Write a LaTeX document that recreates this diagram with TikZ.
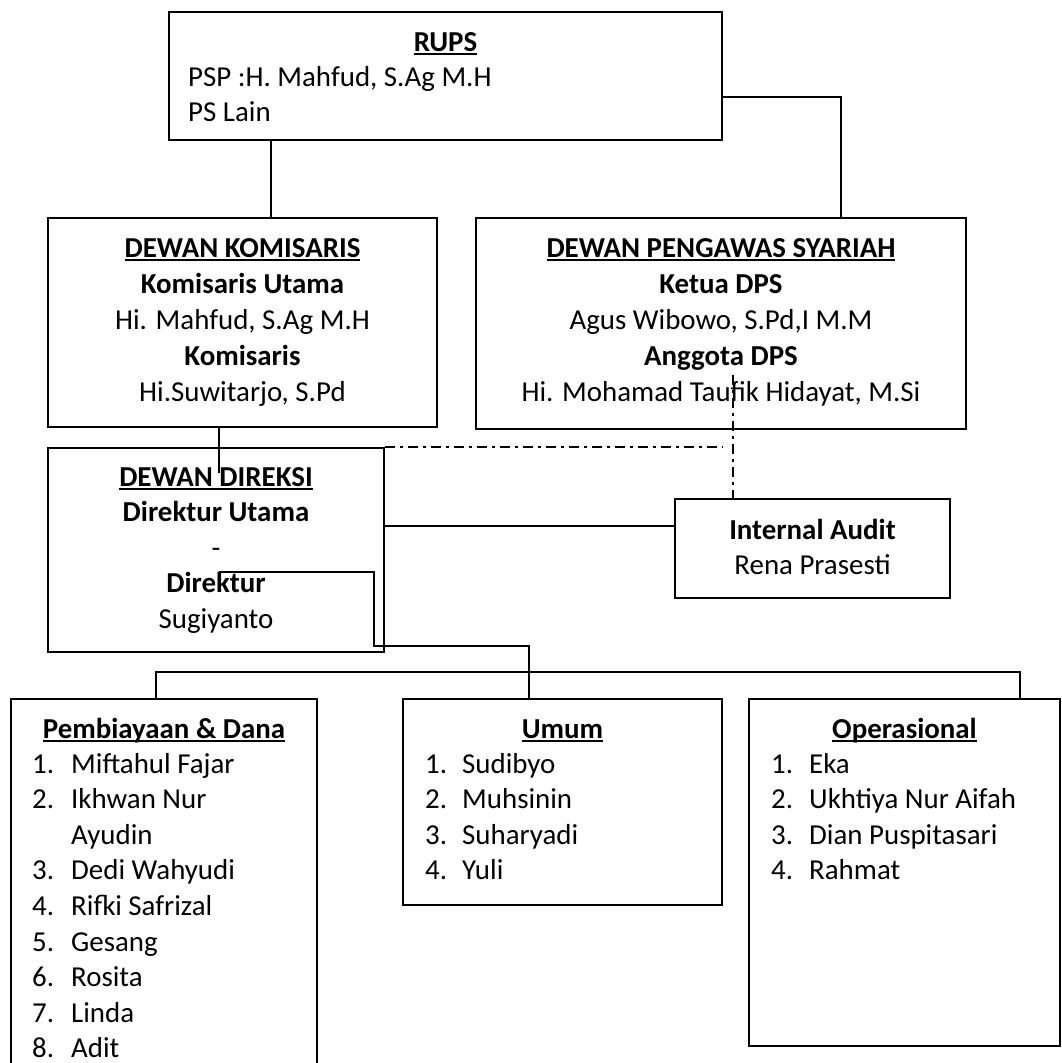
\documentclass[tikz,border=0pt]{standalone}
\usepackage{fontspec}
\setmainfont{Carlito}
\newcommand{\myul}[1]{\setbox0\hbox{#1}\rlap{\rule[-4pt]{\wd0}{2pt}}\box0}
\begin{document}
\begin{tikzpicture}[x=1pt,y=-1pt,
  box/.style={draw, line width=1.8pt, inner sep=0pt},
  conn/.style={line width=1.4pt},
  ddot/.style={line width=1.6pt, dash pattern=on 10pt off 5pt on 3pt off 5pt},
  txt/.style={inner sep=0pt, anchor=base, font=\fontsize{28.9}{36}\selectfont},
  ltxt/.style={txt, anchor=base west},
  btxt/.style={inner sep=0pt, anchor=base, font=\fontsize{28.9}{36}\selectfont\bfseries}]
\useasboundingbox (0,0) rectangle (1062,1063);
\clip (0,0) rectangle (1062,1063);
\fill[white] (0,0) rectangle (1062,1063);

% boxes
\node[box, minimum width=553pt, minimum height=128pt] (rups) at (445.5,76) {};
\node[box, minimum width=389pt, minimum height=209pt] (dk) at (242.5,322.5) {};
\node[box, minimum width=490pt, minimum height=211pt] (dps) at (721,323.5) {};
\node[box, minimum width=336pt, minimum height=204pt] (dd) at (216,550) {};
\node[box, minimum width=275pt, minimum height=99pt] (ia) at (812.5,548.5) {};
\node[box, minimum width=306pt, minimum height=401pt] (pd) at (164,899.5) {};
\node[box, minimum width=319pt, minimum height=206pt] (um) at (562.5,802) {};
\node[box, minimum width=311pt, minimum height=347pt] (op) at (904.5,872.5) {};

% connectors
\coordinate (xa) at (271,0);
\draw[conn] (rups.south -| xa) -- (dk.north -| xa);
\coordinate (r1) at (841,97);
\draw[conn] (rups.east |- r1) -- (r1) -- (dps.north -| r1);
\coordinate (xb) at (219,473);
\draw[conn] (dk.south -| xb) -- (xb);
\coordinate (ya) at (0,526);
\draw[conn] (dd.east |- ya) -- (ia.west |- ya);
\coordinate (d1) at (723,447);
\draw[ddot] (dd.east |- d1) -- (d1);
\coordinate (d2) at (733,375);
\draw[ddot] (d2) -- (ia.north -| d2);
\coordinate (i1) at (219,572);
\coordinate (i2) at (374,646);
\coordinate (i3) at (529,646);
\draw[conn] (i1) -| (i2) -- (i3) -- (um.north -| i3);
\coordinate (b1) at (156,672);
\coordinate (b2) at (1020,672);
\draw[conn] (pd.north -| b1) -- (b1) -- (b2) -- (op.north -| b2);

% RUPS
\node[btxt] (rupsT) at (445.5,51) {\myul{RUPS}};
\node[ltxt] (rupsA) at (188,86) {PSP :H. Mahfud, S.Ag M.H};
\node[ltxt] (rupsB) at (188,121) {PS Lain};

% Dewan Komisaris
\node[btxt] (dkT) at (242.5,257) {\myul{DEWAN KOMISARIS}};
\node[btxt] (dkA) at (242.5,293) {Komisaris Utama};
\node[txt]  (dkB) at (242.5,329) {Hi. Mahfud, S.Ag M.H};
\node[btxt] (dkC) at (242.5,365) {Komisaris};
\node[txt]  (dkD) at (242.5,401) {Hi.Suwitarjo, S.Pd};

% DPS
\node[btxt] (dpsT) at (721,257) {\myul{DEWAN PENGAWAS SYARIAH}};
\node[btxt] (dpsA) at (721,293) {Ketua DPS};
\node[txt]  (dpsB) at (721,329) {Agus Wibowo, S.Pd,I M.M};
\node[btxt] (dpsC) at (721,365) {Anggota DPS};
\node[txt]  (dpsD) at (721,401) {Hi. Mohamad Taufik Hidayat, M.Si};

% Dewan Direksi
\node[btxt] (ddT) at (216,486) {\myul{DEWAN DIREKSI}};
\node[btxt] (ddA) at (216,521.5) {Direktur Utama};
\node[txt]  (ddB) at (216,557) {-};
\node[btxt] (ddC) at (216,592.5) {Direktur};
\node[txt]  (ddD) at (216,628) {Sugiyanto};

% Internal Audit
\node[btxt] (iaT) at (812.5,539) {Internal Audit};
\node[txt]  (iaA) at (812.5,574) {Rena Prasesti};

% Pembiayaan & Dana
\node[btxt] (pdT) at (164,738) {\myul{Pembiayaan \& Dana}};
\node[ltxt] (pdN1) at (32,773) {1.};  \node[ltxt] (pdM1) at (71,773) {Miftahul Fajar};
\node[ltxt] (pdN2) at (32,808.6) {2.};  \node[ltxt] (pdM2) at (71,808.6) {Ikhwan Nur};
\node[ltxt] (pdM2b) at (71,844.2) {Ayudin};
\node[ltxt] (pdN3) at (32,879.8) {3.};  \node[ltxt] (pdM3) at (71,879.8) {Dedi Wahyudi};
\node[ltxt] (pdN4) at (32,915.4) {4.};  \node[ltxt] (pdM4) at (71,915.4) {Rifki Safrizal};
\node[ltxt] (pdN5) at (32,951) {5.};  \node[ltxt] (pdM5) at (71,951) {Gesang};
\node[ltxt] (pdN6) at (32,986.6) {6.};  \node[ltxt] (pdM6) at (71,986.6) {Rosita};
\node[ltxt] (pdN7) at (32,1022.2) {7.}; \node[ltxt] (pdM7) at (71,1022.2) {Linda};
\node[ltxt] (pdN8) at (32,1057.8) {8.}; \node[ltxt] (pdM8) at (71,1057.8) {Adit};

% Umum
\node[btxt] (umT) at (562.5,738) {\myul{Umum}};
\node[ltxt] (umN1) at (425,773) {1.}; \node[ltxt] (umM1) at (462,773) {Sudibyo};
\node[ltxt] (umN2) at (425,808.6) {2.}; \node[ltxt] (umM2) at (462,808.6) {Muhsinin};
\node[ltxt] (umN3) at (425,844.2) {3.}; \node[ltxt] (umM3) at (462,844.2) {Suharyadi};
\node[ltxt] (umN4) at (425,879.8) {4.}; \node[ltxt] (umM4) at (462,879.8) {Yuli};

% Operasional
\node[btxt] (opT) at (904.5,738) {\myul{Operasional}};
\node[ltxt] (opN1) at (771,773) {1.}; \node[ltxt] (opM1) at (809,773) {Eka};
\node[ltxt] (opN2) at (771,808.6) {2.}; \node[ltxt] (opM2) at (809,808.6) {Ukhtiya Nur Aifah};
\node[ltxt] (opN3) at (771,844.2) {3.}; \node[ltxt] (opM3) at (809,844.2) {Dian Puspitasari};
\node[ltxt] (opN4) at (771,879.8) {4.}; \node[ltxt] (opM4) at (809,879.8) {Rahmat};
\end{tikzpicture}
\end{document}
